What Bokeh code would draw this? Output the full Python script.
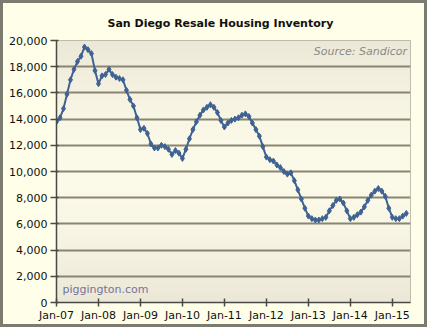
import numpy as np
from bokeh.plotting import figure
from bokeh.models import Range1d, FixedTicker, NumeralTickFormatter, Label
from bokeh.embed import file_html
from bokeh.resources import INLINE

# months since Jan-2007
months = list(range(101))
inventory = [
    # 2007
    13800, 14100, 14800, 15900, 17000, 17800, 18400, 18800, 19500, 19300, 19000, 17700,
    # 2008
    16700, 17300, 17400, 17800, 17400, 17200, 17100, 17000, 16200, 15500, 15000, 14100,
    # 2009
    13200, 13300, 12900, 12100, 11800, 11800, 12000, 11900, 11700, 11300, 11600, 11400,
    # 2010
    11000, 11700, 12500, 13200, 13800, 14300, 14700, 14900, 15100, 14900, 14500, 13900,
    # 2011
    13400, 13700, 13900, 14000, 14100, 14300, 14400, 14200, 13700, 13200, 12700, 11900,
    # 2012
    11100, 10900, 10800, 10500, 10300, 10000, 9800, 9900, 9300, 8600, 7900, 7200,
    # 2013
    6600, 6400, 6300, 6300, 6400, 6500, 7000, 7400, 7800, 7900, 7600, 7000,
    # 2014
    6400, 6500, 6700, 6900, 7300, 7800, 8200, 8500, 8700, 8500, 8100, 7200,
    # 2015
    6500, 6400, 6400, 6600, 6800,
]
year_ticks = [0, 12, 24, 36, 48, 60, 72, 84, 96]
year_labels = ["Jan-07", "Jan-08", "Jan-09", "Jan-10", "Jan-11",
               "Jan-12", "Jan-13", "Jan-14", "Jan-15"]
y_ticks = [0, 2000, 4000, 6000, 8000, 10000, 12000, 14000, 16000, 18000, 20000]

X_MAX = 101.2
Y_MAX = 20000

p = figure(width=427, height=327, output_backend="svg", toolbar_location=None,
           x_range=Range1d(0, X_MAX), y_range=Range1d(0, Y_MAX),
           min_border_left=53, min_border_right=20, min_border_top=37,
           min_border_bottom=28,
           background_fill_color="#F6F3E2", border_fill_color="#FFFEE9",
           styles={"border": "3px solid #7c7b70"})

# plot-area gradient (beige at edges, lighter cream in the middle)
n = 262
t = np.linspace(0, 1, n)
w = np.abs(2 * t - 1) ** 1.6
light = np.array([252, 250, 232])
beige = np.array([236, 232, 216])
cols = light[None, :] * (1 - w[:, None]) + beige[None, :] * w[:, None]
img = np.zeros((n, 1), dtype=np.uint32)
view = img.view(dtype=np.uint8).reshape((n, 1, 4))
view[:, 0, 0] = cols[:, 0].astype(np.uint8)
view[:, 0, 1] = cols[:, 1].astype(np.uint8)
view[:, 0, 2] = cols[:, 2].astype(np.uint8)
view[:, 0, 3] = 255
p.image_rgba(image=[img], x=0, y=0, dw=X_MAX, dh=Y_MAX, level="image")

p.title.text = "San Diego Resale Housing Inventory"
p.title.align = "left"
p.title.offset = 51
p.title.standoff = 21
p.title.text_font = "DejaVu Sans"
p.title.text_font_size = "11px"
p.title.text_font_style = "bold"
p.title.text_color = "#111111"

p.outline_line_color = "#b0ad9f"
p.outline_line_width = 1

# grid
p.xgrid.visible = False
p.ygrid.ticker = FixedTicker(ticks=y_ticks)
p.ygrid.grid_line_color = "#8a8572"
p.ygrid.grid_line_width = 2
p.ygrid.level = "image"

# axes
p.yaxis.ticker = FixedTicker(ticks=y_ticks)
p.yaxis.formatter = NumeralTickFormatter(format="0,0")
p.yaxis.major_tick_out = 6
p.yaxis.major_tick_in = 2
p.yaxis.minor_tick_line_color = None
p.yaxis.major_label_standoff = 3

p.xaxis.ticker = FixedTicker(ticks=year_ticks, minor_ticks=[])
p.xaxis.major_label_overrides = {k: v for k, v in zip(year_ticks, year_labels)}
p.xaxis.major_tick_out = 4
p.xaxis.major_tick_in = 4
p.xaxis.major_label_standoff = 2

for ax in (p.xaxis, p.yaxis):
    ax.axis_line_color = "#4a4a44"
    ax.axis_line_width = 1.5
    ax.major_tick_line_color = "#4a4a44"
    ax.major_tick_line_width = 1.5
    ax.major_label_text_font = "DejaVu Sans"
    ax.major_label_text_font_size = "11px"
    ax.major_label_text_color = "#111111"

line_col = "#3f6293"
p.line(months, inventory, line_color=line_col, line_width=2)
p.scatter(months, inventory, marker="diamond", size=6,
          fill_color=line_col, line_color=line_col)

p.add_layout(Label(x=100.2, y=19650, text="Source: Sandicor", text_align="right",
                   text_baseline="top", text_font="DejaVu Sans", text_font_size="11px",
                   text_font_style="italic", text_color="#8a8a8a"))
p.add_layout(Label(x=1.7, y=1000, text="piggington.com", text_align="left",
                   text_baseline="middle", text_font="DejaVu Sans", text_font_size="11px",
                   text_color="#74749a"))

open("out.html", "w").write(file_html(p, INLINE))
